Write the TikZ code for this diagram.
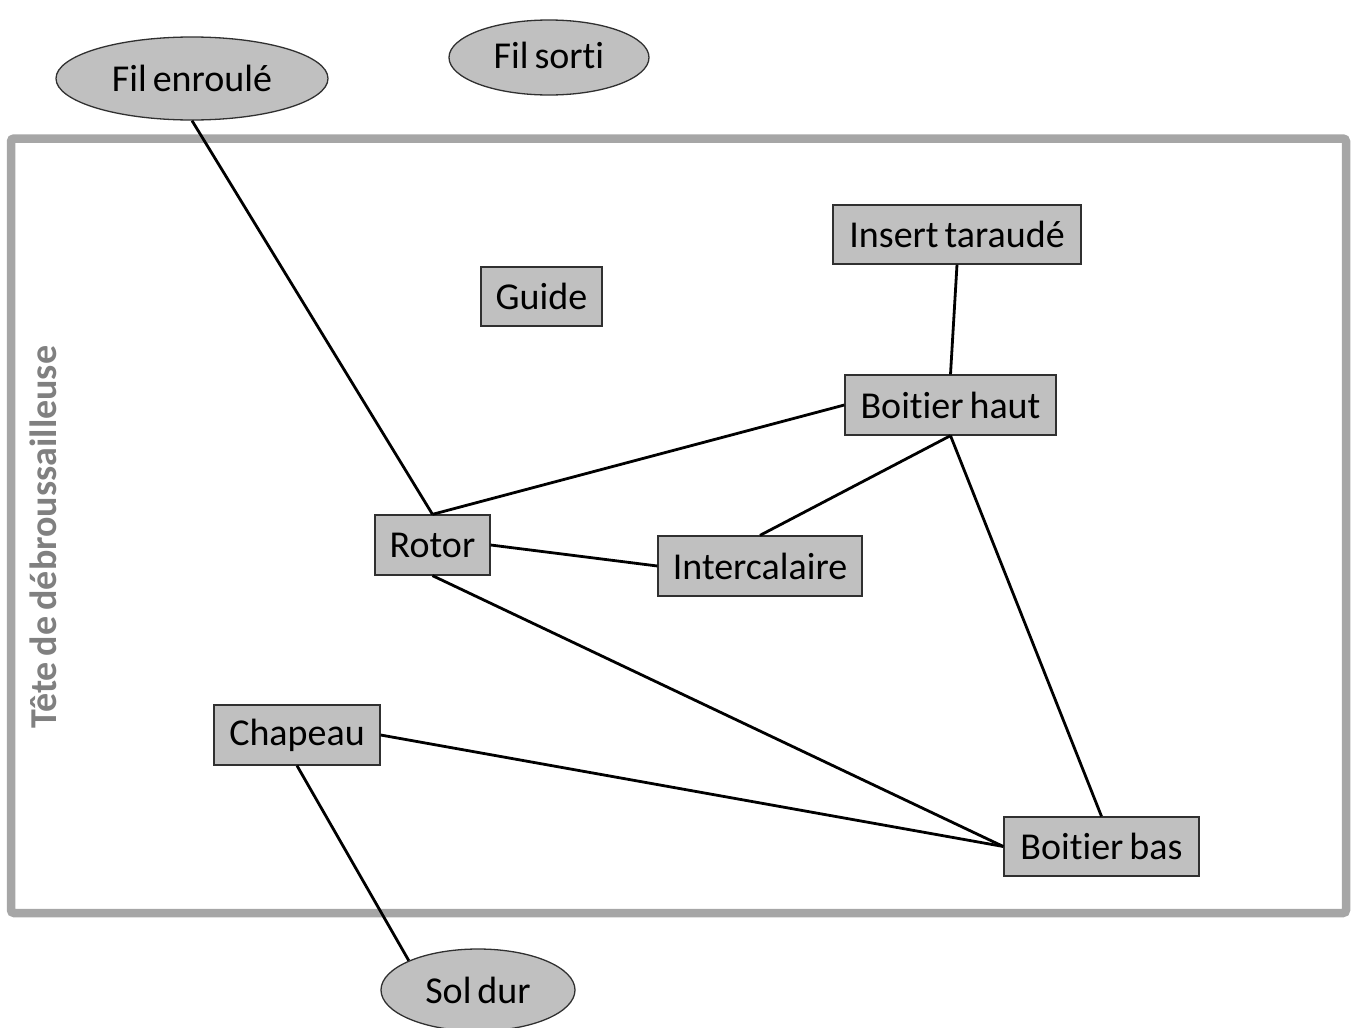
\documentclass[tikz,border=0pt]{standalone}
\usepackage{fontspec}
\setmainfont{Carlito}[WordSpace=0.7, RawFeature=-liga]
\usetikzlibrary{shapes.geometric}
\definecolor{boxfill}{HTML}{C0C0C0}
\definecolor{boxline}{HTML}{303030}
\definecolor{framecol}{HTML}{A6A6A6}
\definecolor{labelcol}{HTML}{808080}
\begin{document}
\begin{tikzpicture}[x=1pt,y=-1pt,
  part/.style={draw=boxline, fill=boxfill, line width=1.3pt, inner sep=0pt,
    font=\fontsize{38}{44}\selectfont},
  outside/.style={ellipse, draw=boxline, fill=boxfill, line width=1.3pt, inner sep=0pt,
    font=\fontsize{38}{44}\selectfont},
  link/.style={draw=black, line width=2.8pt}]
\useasboundingbox (0,0) rectangle (1353,1028);
% frame
\draw[framecol, line width=8.5pt, rounded corners=3pt] (11,138.5) rectangle (1346,913);
\node[rotate=90, text=labelcol, font=\fontsize{38}{44}\selectfont\bfseries] (title) at (43,537) {Tête de débroussailleuse};
% outside elements
\node[outside, minimum width=272pt, minimum height=83pt] (fil) at (192,78.5) {Fil enroulé};
\node[outside, minimum width=200pt, minimum height=75pt] (sorti) at (549,57.5) {\raisebox{5pt}{Fil sorti}};
\node[outside, minimum width=194pt, minimum height=82pt] (sol) at (478,990) {Sol dur};
% parts
\node[part, minimum width=121pt, minimum height=59pt] (guide) at (541.5,296.5) {Guide};
\node[part, minimum width=248pt, minimum height=59pt] (insert) at (957,234.5) {Insert taraudé};
\node[part, minimum width=211pt, minimum height=60pt] (haut) at (950.5,405) {Boitier haut};
\node[part, minimum width=115pt, minimum height=60pt] (rotor) at (432.5,545) {Rotor};
\node[part, minimum width=204pt, minimum height=60pt] (inter) at (760,566) {Intercalaire};
\node[part, minimum width=166pt, minimum height=60pt] (chapeau) at (297,735) {Chapeau};
\node[part, minimum width=195pt, minimum height=59pt] (bas) at (1101.5,846.5) {Boitier bas};
% connectors
\draw[link] (fil.south) -- (rotor.north);
\draw[link] (haut.west) -- (rotor.north);
\draw[link] (rotor.east) -- (inter.west);
\draw[link] (inter.north) -- (haut.south);
\draw[link] (rotor.south) -- (bas.west);
\draw[link] (chapeau.east) -- (bas.west);
\draw[link] (haut.south) -- (bas.north);
\draw[link] (insert.south) -- (haut.north);
\draw[link] (chapeau.south) -- (sol.157);
\end{tikzpicture}
\end{document}
